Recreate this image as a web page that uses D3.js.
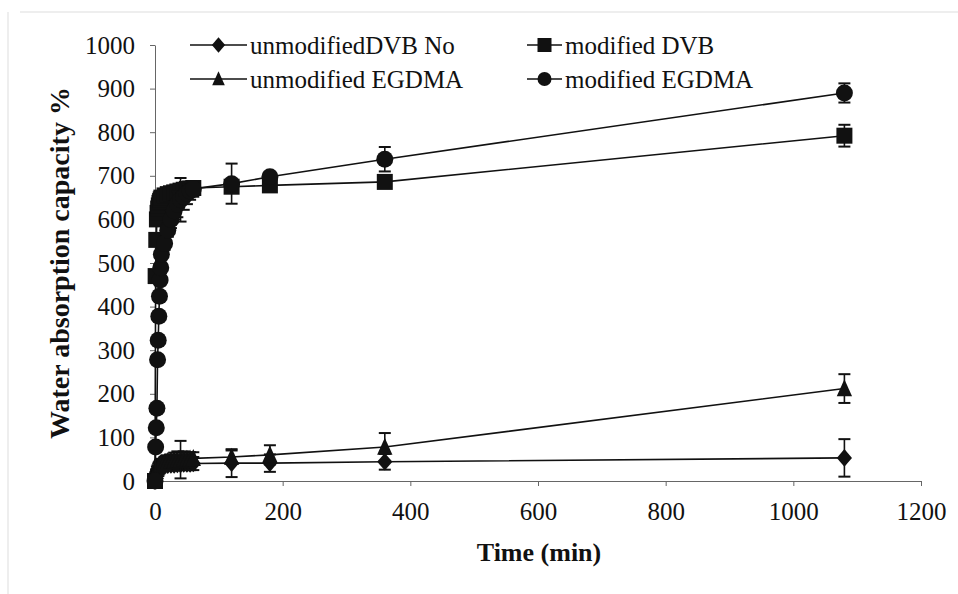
<!DOCTYPE html>
<html>
<head>
<meta charset="utf-8">
<script src="https://cdn.jsdelivr.net/npm/d3@7/dist/d3.min.js"></script>
<style>
  body { margin: 0; background: #fff; }
  svg text { font-family: "Liberation Serif", "Times New Roman", serif !important; fill: #111; }
</style>
</head>
<body>
<svg id="chart" width="958" height="594"></svg>
<script>
// sampling times (min)
var times = [0, 1, 2, 3, 4, 5, 6, 7, 8, 9, 10, 15, 20, 25, 30, 35, 40, 45, 50, 55, 60, 120, 180, 360, 1080];

var unmodDVB    = [0, 12, 18, 22, 25, 27, 29, 30, 31, 32, 33, 35, 36, 37, 37, 38, 38, 39, 39, 39, 40, 41, 41, 44, 53];
var unmodDVBErr = [0, 3, 4, 5, 5, 6, 6, 6, 7, 7, 8, 8, 9, 10, 10, 10, 12, 12, 12, 14, 15, 32, 20, 18, 43];

var modDVB    = [0, 470, 553, 600, 615, 625, 632, 638, 642, 646, 650, 655, 658, 660, 662, 664, 666, 668, 670, 671, 672, 675, 678, 686, 792];
var modDVBErr = [0, 10, 10, 12, 12, 12, 12, 12, 12, 12, 12, 12, 14, 14, 14, 15, 15, 15, 15, 15, 15, 10, 10, 12, 25];

var unmodEG    = [0, 15, 22, 27, 30, 33, 35, 37, 39, 40, 41, 43, 45, 46, 47, 48, 49, 50, 50, 51, 52, 55, 60, 78, 212];
var unmodEGErr = [0, 4, 5, 6, 6, 7, 8, 8, 9, 9, 10, 12, 14, 15, 18, 20, 43, 18, 15, 15, 14, 15, 22, 32, 33];

var modEG    = [0, 78, 122, 167, 278, 323, 378, 424, 461, 489, 520, 545, 575, 600, 620, 635, 645, 652, 660, 665, 670, 682, 698, 738, 890];
var modEGErr = [0, 5, 6, 8, 8, 10, 10, 10, 12, 12, 12, 15, 15, 20, 20, 30, 50, 30, 25, 20, 18, 46, 10, 28, 22];

var xTicks = [0, 200, 400, 600, 800, 1000, 1200];
var yTicks = [0, 100, 200, 300, 400, 500, 600, 700, 800, 900, 1000];

var serif = "'Liberation Serif', 'Times New Roman', serif";

// custom marker shapes (size = full width in px)
var diamond = { draw: function(c, s) { var h = s / 2; c.moveTo(0, -h * 1.1); c.lineTo(h * 0.95, 0); c.lineTo(0, h * 1.1); c.lineTo(-h * 0.95, 0); c.closePath(); } };
var square = { draw: function(c, s) { var h = s / 2; c.rect(-h, -h, s, s); } };
var triangle = { draw: function(c, s) { var h = s / 2; c.moveTo(0, -h * 1.1); c.lineTo(h * 0.9, h * 0.9); c.lineTo(-h * 0.9, h * 0.9); c.closePath(); } };
var circle = { draw: function(c, s) { var r = s / 2; c.moveTo(r, 0); c.arc(0, 0, r, 0, 2 * Math.PI); } };

var series = [
  { name: "unmodifiedDVB No", values: unmodDVB, err: unmodDVBErr, shape: diamond, size: 16 },
  { name: "modified DVB", values: modDVB, err: modDVBErr, shape: square, size: 16 },
  { name: "unmodified EGDMA", values: unmodEG, err: unmodEGErr, shape: triangle, size: 17 },
  { name: "modified EGDMA", values: modEG, err: modEGErr, shape: circle, size: 17 }
];

var svg = d3.select("#chart");

// faint scan border
svg.append("line").attr("x1", 20).attr("x2", 958).attr("y1", 12).attr("y2", 12).attr("stroke", "#ddd");
svg.append("line").attr("x1", 8).attr("x2", 8).attr("y1", 12).attr("y2", 594).attr("stroke", "#ddd");

var x = d3.scaleLinear().domain([0, 1200]).range([155, 921]);
var y = d3.scaleLinear().domain([0, 1000]).range([481, 45]);

var xAxis = svg.append("g")
    .attr("transform", "translate(0," + y(0) + ")")
    .call(d3.axisBottom(x).tickValues(xTicks).tickFormat(d3.format("d"))
      .tickSize(5).tickSizeOuter(0).tickPadding(16));
var yAxis = svg.append("g")
    .attr("transform", "translate(" + x(0) + ",0)")
    .call(d3.axisLeft(y).tickValues(yTicks).tickFormat(d3.format("d"))
      .tickSize(5).tickSizeOuter(0).tickPadding(15));

[xAxis, yAxis].forEach(function(a) {
  a.attr("font-family", serif).attr("font-size", 25);
  a.select(".domain").attr("stroke", "#666");
  a.selectAll(".tick line").attr("stroke", "#666");
  a.selectAll(".tick text").style("font-family", serif).style("font-size", "25px").attr("fill", "#111");
});

var line = d3.line()
    .x(function(d) { return x(d.t); })
    .y(function(d) { return y(d.v); });

var plot = svg.append("g");

series.forEach(function(s) {
  var pts = times.map(function(t, i) { return { t: t, v: s.values[i], e: s.err[i] }; });
  var g = plot.append("g");

  g.append("path")
    .datum(pts)
    .attr("d", line)
    .attr("fill", "none")
    .attr("stroke", "#111")
    .attr("stroke-width", 1.6);

  var eb = g.selectAll(".err").data(pts.filter(function(d) { return d.e > 0; }))
    .enter().append("g").attr("class", "err");
  eb.append("line")
    .attr("x1", function(d) { return x(d.t); }).attr("x2", function(d) { return x(d.t); })
    .attr("y1", function(d) { return y(d.v - d.e); }).attr("y2", function(d) { return y(d.v + d.e); })
    .attr("stroke", "#111").attr("stroke-width", 1.6);
  [-1, 1].forEach(function(sign) {
    eb.append("line")
      .attr("x1", function(d) { return x(d.t) - 6; }).attr("x2", function(d) { return x(d.t) + 6; })
      .attr("y1", function(d) { return y(d.v + sign * d.e); }).attr("y2", function(d) { return y(d.v + sign * d.e); })
      .attr("stroke", "#111").attr("stroke-width", 2);
  });

  g.selectAll(".mark").data(pts)
    .enter().append("path")
    .attr("class", "mark")
    .attr("transform", function(d) { return "translate(" + x(d.t) + "," + y(d.v) + ")"; })
    .attr("d", d3.symbol().type(s.shape).size(s.size))
    .attr("fill", "#111");
});

// legend
var legendPos = [
  { lx1: 190, lx2: 247, tx: 250, y: 45 },
  { lx1: 527, lx2: 562, tx: 565, y: 45 },
  { lx1: 190, lx2: 247, tx: 250, y: 79 },
  { lx1: 527, lx2: 562, tx: 565, y: 79 }
];

var legend = svg.append("g");
series.forEach(function(s, i) {
  var p = legendPos[i];
  var lg = legend.append("g");
  lg.append("line")
    .attr("x1", p.lx1).attr("x2", p.lx2).attr("y1", p.y).attr("y2", p.y)
    .attr("stroke", "#111").attr("stroke-width", 1.6);
  lg.append("path")
    .attr("transform", "translate(" + (p.lx1 + p.lx2) / 2 + "," + p.y + ")")
    .attr("d", d3.symbol().type(s.shape).size(14))
    .attr("fill", "#111");
  lg.append("text")
    .attr("x", p.tx).attr("y", p.y)
    .attr("dy", "0.35em")
    .style("font-family", serif)
    .style("font-size", "25px")
    .text(s.name);
});

// axis titles
svg.append("text")
  .attr("x", 539).attr("y", 561)
  .attr("text-anchor", "middle")
  .style("font-family", serif)
  .style("font-size", "26px").style("font-weight", "bold")
  .text("Time (min)");

svg.append("text")
  .attr("transform", "translate(69,263) rotate(-90)")
  .attr("text-anchor", "middle")
  .style("font-family", serif)
  .style("font-size", "28px").style("font-weight", "bold")
  .text("Water absorption capacity %");
</script>
</body>
</html>
